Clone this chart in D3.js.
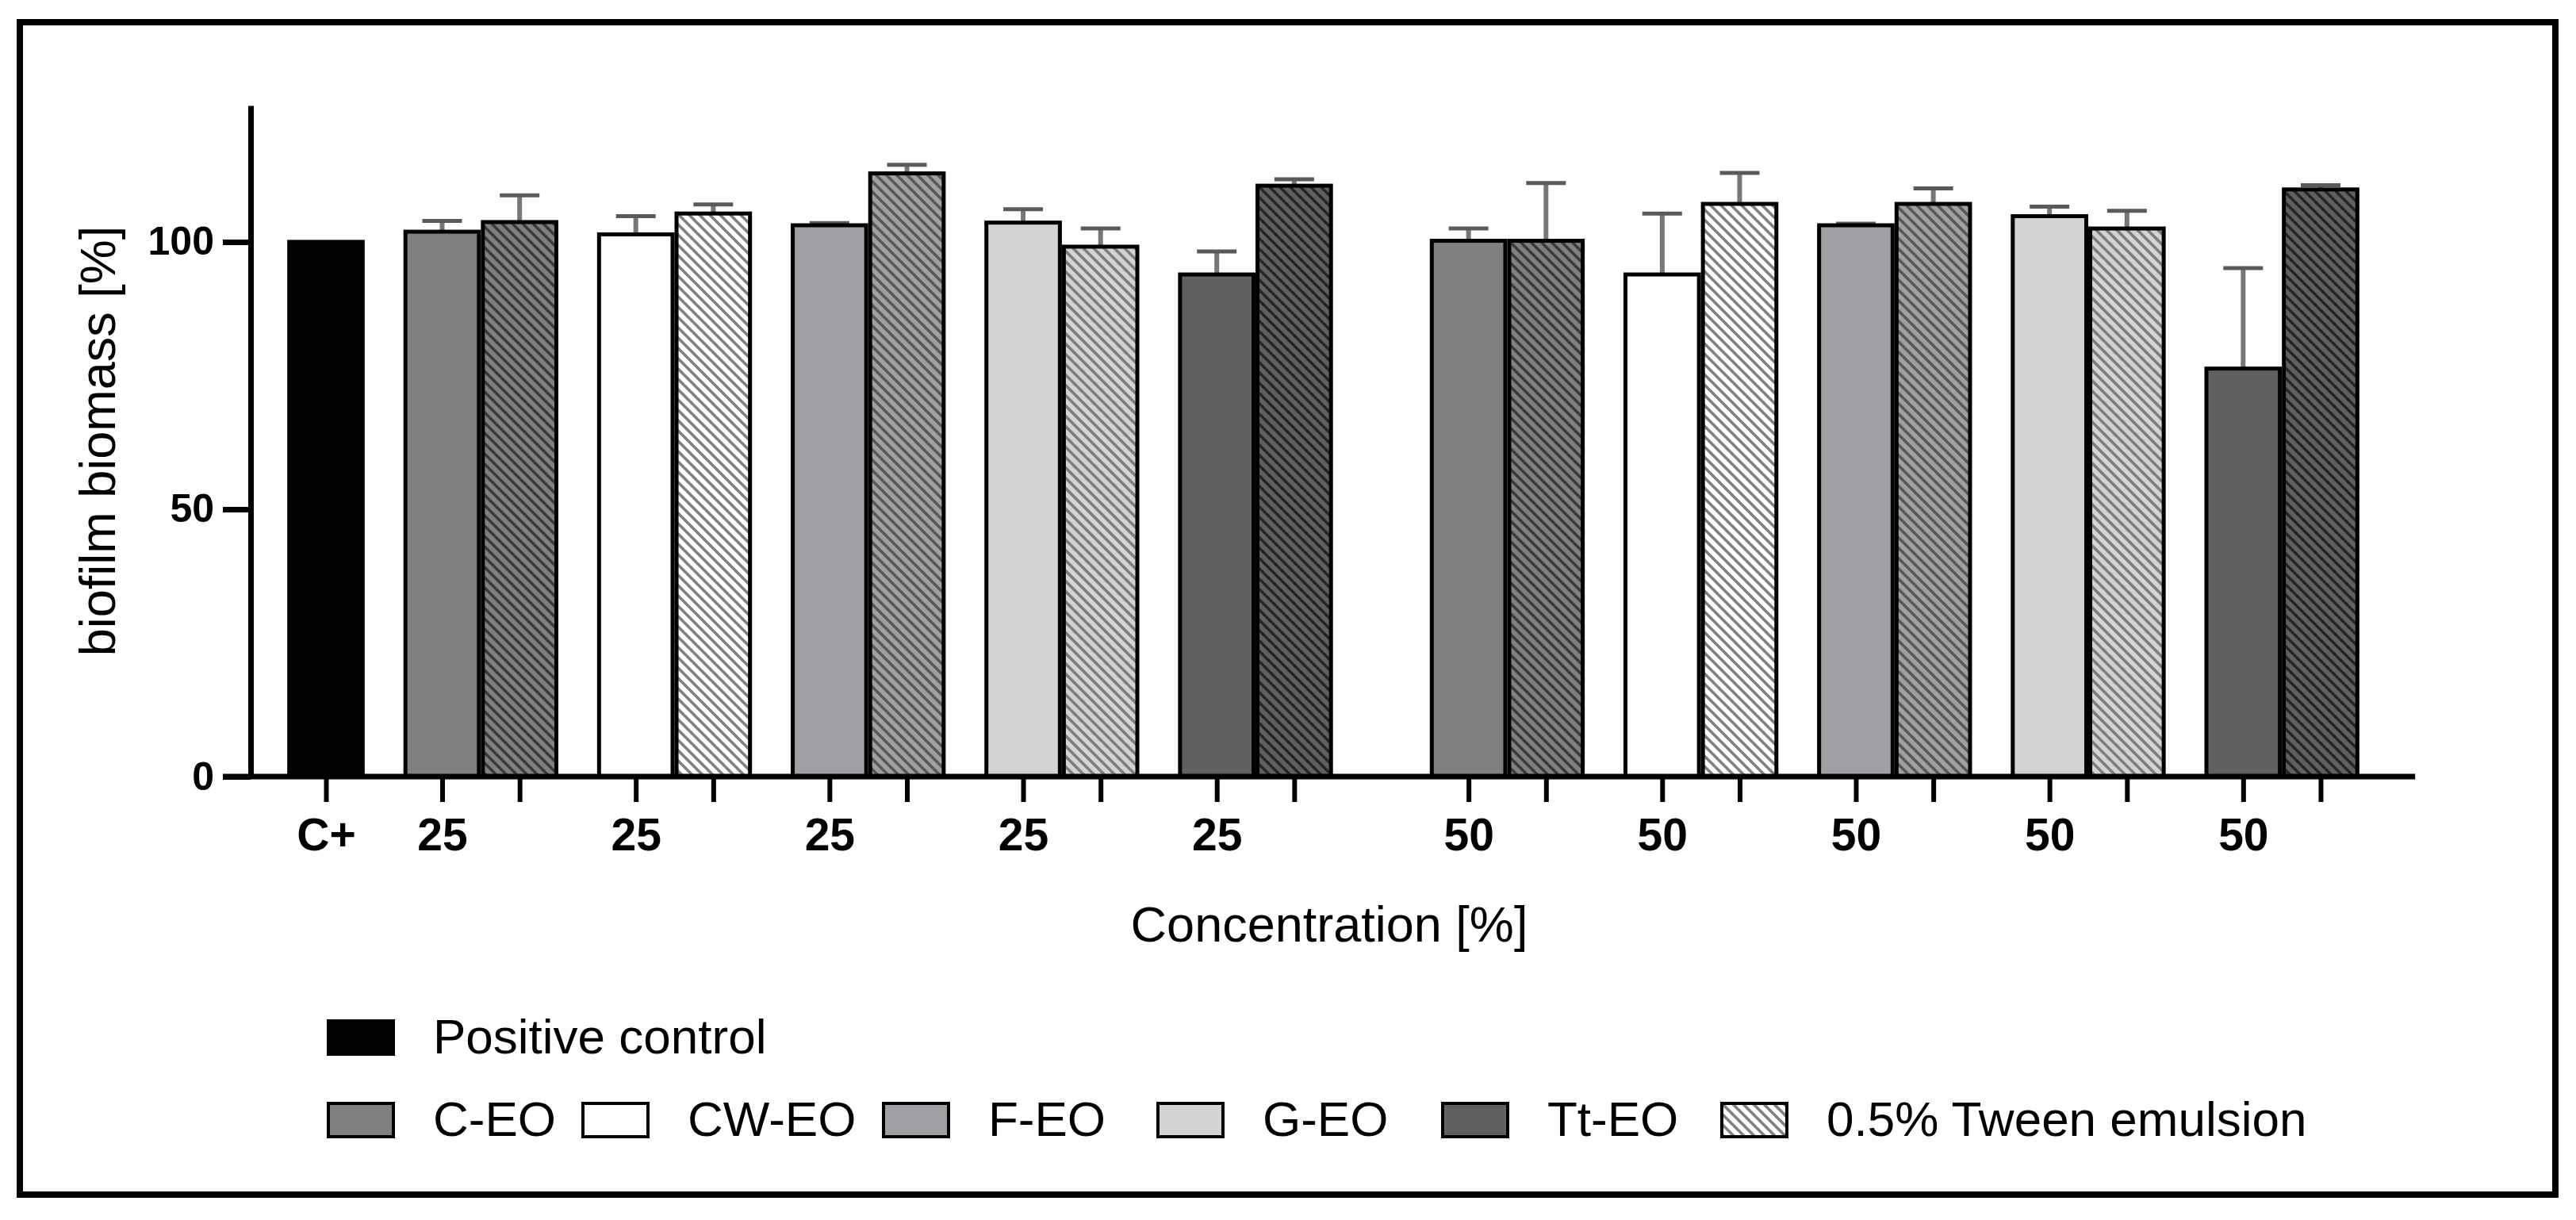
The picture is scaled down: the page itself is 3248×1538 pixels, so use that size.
<!DOCTYPE html>
<html>
<head>
<meta charset="utf-8">
<script src="https://cdn.jsdelivr.net/npm/d3@7"></script>
<style>
body { margin: 0; background: #fff; }
text { font-family: "Liberation Sans", Arial, sans-serif; }
</style>
</head>
<body>
<svg id="chart" width="3248" height="1538"></svg>
<script>
// data (biofilm biomass, % of positive control)
var groups = ['C-EO', 'CW-EO', 'F-EO', 'G-EO', 'Tt-EO'];
var concentrations = ['25', '50'];
var controlLabel = 'C+';
var controlValue = 100;
var eo25 = [101.9, 101.4, 103.1, 103.6, 93.9];
var eo25Err = [2.0, 3.4, 0.4, 2.5, 4.3];
var tween25 = [103.7, 105.3, 112.8, 99.1, 110.5];
var tween25Err = [5.0, 1.7, 1.6, 3.4, 1.2];
var eo50 = [100.2, 93.9, 103.1, 104.8, 76.3];
var eo50Err = [2.3, 11.4, 0.3, 1.8, 18.8];
var tween50 = [100.2, 107.1, 107.1, 102.5, 109.8];
var tween50Err = [10.8, 5.8, 2.9, 3.3, 0.8];
var yTicks = [0, 50, 100];
var legendRow1 = ['Positive control'];
var legendRow2 = ['C-EO', 'CW-EO', 'F-EO', 'G-EO', 'Tt-EO', '0.5% Tween emulsion'];

var fills = {'C+': '#000000', 'C-EO': '#808080', 'CW-EO': '#ffffff', 'F-EO': '#a0a0a4', 'G-EO': '#d3d3d3', 'Tt-EO': '#606060'};
var hatchLines = {'C-EO': '#3a3a3a', 'CW-EO': '#808080', 'F-EO': '#585858', 'G-EO': '#7e7e7e', 'Tt-EO': '#262626'};

var svg = d3.select('#chart');

// hatch patterns for the tween bars
var defs = svg.append('defs');
groups.forEach(function(g, i) {
	var p = defs.append('pattern')
		.attr('id', 'hatch' + i)
		.attr('patternUnits', 'userSpaceOnUse')
		.attr('width', 13).attr('height', 13);
	p.append('rect').attr('width', 13).attr('height', 13).attr('fill', fills[g]);
	p.append('path')
		.attr('d', 'M-3,-3L16,16M-3,10L3,16M10,-3L16,3')
		.attr('stroke', hatchLines[g])
		.attr('stroke-width', 3.6);
});

// outer frame
svg.append('rect')
	.attr('x', 25).attr('y', 28)
	.attr('width', 3197).attr('height', 1478)
	.attr('fill', 'none').attr('stroke', '#000').attr('stroke-width', 8);

// bars list: slot is the column position in bar widths
var bars = [{slot: 0, value: controlValue, err: 0, fill: fills['C+'], label: controlLabel, ctrl: true}];
var sets = [[eo25, eo25Err, tween25, tween25Err], [eo50, eo50Err, tween50, tween50Err]];
concentrations.forEach(function(c, ci) {
	groups.forEach(function(g, gi) {
		var base = 1.5 + 2.5 * gi + ci * 13.25;
		bars.push({slot: base, value: sets[ci][0][gi], err: sets[ci][1][gi], fill: fills[g], label: c});
		bars.push({slot: base + 1, value: sets[ci][2][gi], err: sets[ci][3][gi], fill: 'url(#hatch' + gi + ')', label: ''});
	});
});

var lastSlot = d3.max(bars, function(d) { return d.slot; });
var x = d3.scaleLinear().domain([0, lastSlot]).range([411, 2926]);
var unit = x(1) - x(0);
var y = d3.scaleLinear().domain([0, 125.5]).range([979, 133]);

var axisX = 316;

// error bars (upper only)
var eb = svg.append('g').attr('class', 'errors');
bars.filter(function(d) { return !d.ctrl; }).forEach(function(d) {
	var cx = x(d.slot);
	eb.append('line')
		.attr('x1', cx).attr('x2', cx)
		.attr('y1', y(d.value)).attr('y2', y(d.value + d.err))
		.attr('stroke', '#777').attr('stroke-width', 6);
	eb.append('line')
		.attr('x1', cx - 25).attr('x2', cx + 25)
		.attr('y1', y(d.value + d.err)).attr('y2', y(d.value + d.err))
		.attr('stroke', '#5a5a5a').attr('stroke-width', 5);
});

// bars
svg.append('g').selectAll('rect')
	.data(bars)
	.enter().append('rect')
	.attr('x', function(d) { return x(d.slot) - unit / 2 + 2.5; })
	.attr('width', unit - 5)
	.attr('y', function(d) { return y(d.value); })
	.attr('height', function(d) { return y(0) - y(d.value); })
	.attr('fill', function(d) { return d.fill; })
	.attr('stroke', '#000')
	.attr('stroke-width', 5);

// y axis
var yAxis = svg.append('g')
	.attr('transform', 'translate(' + axisX + ',0)')
	.call(d3.axisLeft(y).tickValues(yTicks).tickSize(35).tickSizeOuter(0).tickPadding(11));
yAxis.select('.domain').attr('stroke-width', 7);
yAxis.selectAll('.tick line').attr('stroke-width', 7);
yAxis.selectAll('.tick text')
	.style('font-size', '50px').style('font-weight', 'bold')
	.style('font-family', '"Liberation Sans", Arial, sans-serif');

// x axis
var xAxis = svg.append('g')
	.attr('transform', 'translate(0,' + y(0) + ')')
	.call(d3.axisBottom(x)
		.tickValues(bars.map(function(d) { return d.slot; }))
		.tickFormat(function(d, i) { return bars[i].label; })
		.tickSize(32).tickSizeOuter(0).tickPadding(21));
xAxis.select('.domain').remove();
xAxis.selectAll('.tick line').attr('stroke-width', 6);
xAxis.selectAll('.tick text')
	.style('font-size', '57px').style('font-weight', 'bold')
	.style('font-family', '"Liberation Sans", Arial, sans-serif');
xAxis.append('line')
	.attr('x1', axisX - 35).attr('x2', x(lastSlot + 1.22))
	.attr('y1', 0).attr('y2', 0)
	.attr('stroke', '#000').attr('stroke-width', 7);

// axis titles
svg.append('text')
	.attr('transform', 'translate(145,' + ((y(0) + y(125.5)) / 2) + ') rotate(-90)')
	.attr('text-anchor', 'middle')
	.style('font-size', '63px')
	.text('biofilm biomass [%]');
svg.append('text')
	.attr('x', 1676).attr('y', 1187)
	.attr('text-anchor', 'middle')
	.style('font-size', '63px')
	.text('Concentration [%]');

// legend
var legend = svg.append('g');
var legendX = [414, 735, 1114, 1460, 1819, 2171];
function legendItem(lx, top, fill, label, baseline) {
	legend.append('rect')
		.attr('x', lx).attr('y', top)
		.attr('width', 82).attr('height', 42)
		.attr('fill', fill).attr('stroke', '#000').attr('stroke-width', 4);
	legend.append('text')
		.attr('x', lx + 132).attr('y', baseline)
		.style('font-size', '62px')
		.text(label);
}
legendItem(legendX[0], 1287, fills['C+'], legendRow1[0], 1328);
legendRow2.forEach(function(l, i) {
	var f = i < groups.length ? fills[groups[i]] : 'url(#hatch1)';
	legendItem(legendX[i], 1391, f, l, 1432);
});
</script>
</body>
</html>
